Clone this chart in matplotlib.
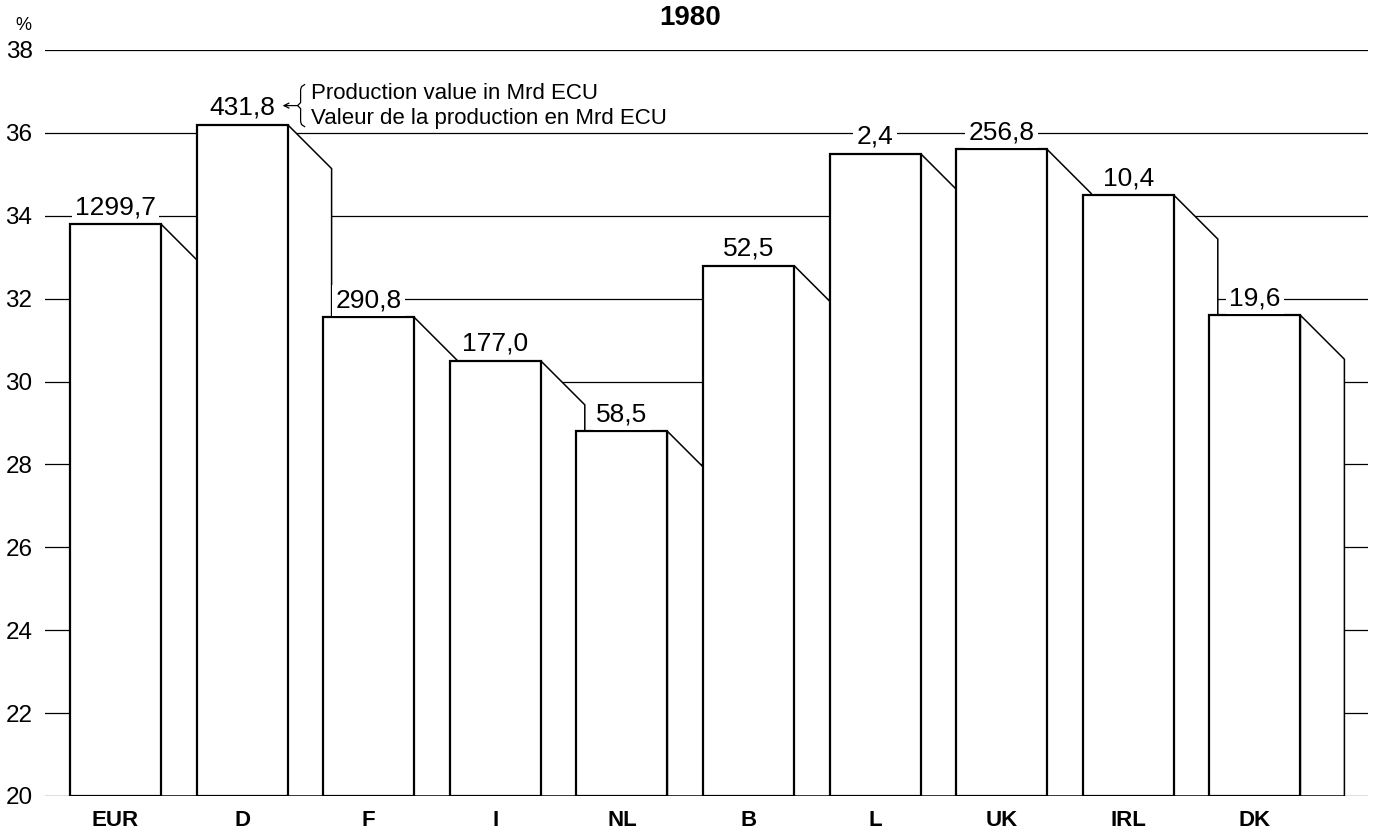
import numpy as np
import matplotlib.pyplot as plt
from matplotlib.patches import Rectangle, Polygon

plt.rcParams['font.family'] = ['Liberation Sans', 'DejaVu Sans']

countries = ['EUR', 'D', 'F', 'I', 'NL', 'B', 'L', 'UK', 'IRL', 'DK']
share = [33.8, 36.2, 31.55, 30.5, 28.8, 32.8, 35.5, 35.6, 34.5, 31.6]
prod_value = ['1299,7', '431,8', '290,8', '177,0', '58,5', '52,5', '2,4', '256,8', '10,4', '19,6']
yticks = np.arange(20, 39, 2)

W, H = 1378, 832
fig = plt.figure(figsize=(W / 100, H / 100), dpi=100)
# axes placed in pixels: x 45..1368, y 50 (38%) .. 796 (20%)
ax = fig.add_axes([45 / W, (H - 796) / H, (1368 - 45) / W, (796 - 50) / H])

step = 126.6          # px between bars
ax.set_xlim(-25 / step, (1368 - 70) / step)
ax.set_ylim(20, 38)

px_per_y = (796 - 50) / 18.0
bw = 91 / step              # front width
dx = 44 / step              # side depth in x
dy = 44 / px_per_y          # side depth in y

def px(x, y):
    # pixel offsets -> data units
    return x / step, y / px_per_y

for y in yticks:
    ax.axhline(y, color='black', lw=0.9, zorder=1)

for i, (c, v) in enumerate(zip(countries, share)):
    front = Rectangle((i, 20), bw, v - 20, fc='white', ec='black', lw=1.6, zorder=2)
    side = Polygon([(i + bw, 20), (i + bw, v), (i + bw + dx, v - dy), (i + bw + dx, 20)],
                   closed=True, fc='white', ec='black', lw=1.1, zorder=2)
    ax.add_patch(side)
    ax.add_patch(front)
    ax.annotate(prod_value[i], xy=(i + bw / 2, v), xytext=(0, 10), textcoords='offset pixels',
                ha='center', va='baseline', fontsize=19, zorder=5,
                bbox=dict(fc='white', ec='none', pad=2.5))

# note beside D: arrow, brace and two-line text
iD = countries.index('D')
xr, top = iD + bw, share[iD]
ox, oy = px(1, 1)
ya = top + 19 * oy
ax.annotate('', xy=(xr - 5 * ox, ya), xytext=(xr + 10 * ox, ya),
            arrowprops=dict(arrowstyle='->', lw=0.9, shrinkA=0, shrinkB=0,
                            mutation_scale=9), zorder=6)
brace_x = np.array([17, 14, 13, 13, 10, 13, 13, 14, 17]) * ox + xr
brace_y = np.array([-21, -19, -16, -3, 0, 3, 16, 19, 21]) * oy + ya
ax.plot(brace_x, brace_y, color='black', lw=0.9, zorder=6, solid_joinstyle='round')
ax.annotate('Production value in Mrd ECU\nValeur de la production en Mrd ECU',
            xy=(xr, ya), xytext=(23, 0), textcoords='offset pixels',
            ha='left', va='center', fontsize=16, linespacing=1.25, zorder=6)

for s in ax.spines.values():
    s.set_visible(False)
ax.set_yticks(yticks)
ax.set_yticklabels([str(t) for t in yticks], fontsize=17.5)
ax.tick_params(axis='y', length=0, pad=9)
ax.set_xticks([i + bw / 2 for i in range(len(countries))])
ax.set_xticklabels(countries, fontsize=16, fontweight='bold')
ax.tick_params(axis='x', length=0, pad=10)

fig.text(23 / W, 1 - 25 / H, '%', ha='center', va='center', fontsize=13)
fig.text(690 / W, 1 - 18 / H, '1980', ha='center', va='center', fontsize=20, fontweight='bold')

fig.savefig('out.png', dpi=100)
